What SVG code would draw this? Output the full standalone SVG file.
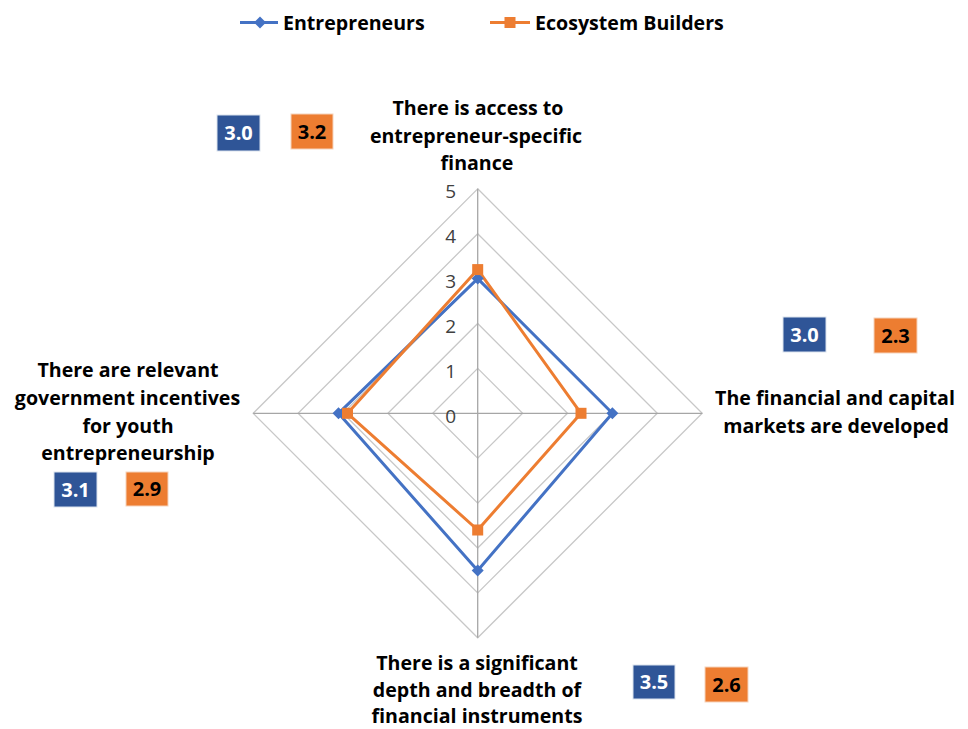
<svg xmlns="http://www.w3.org/2000/svg" width="968" height="729" viewBox="0 0 968 729">
<style>
.lbl{font-family:"Open Sans","Noto Sans","Liberation Sans",sans-serif;font-weight:bold;font-size:19.6px;fill:#000;text-anchor:middle}
.tick{font-family:"Open Sans","Noto Sans","Liberation Sans",sans-serif;font-size:19px;fill:#404040;text-anchor:end}
.ring{fill:none;stroke:#c8c8c8;stroke-width:1.3}
.spoke{stroke:#a6a6a6;stroke-width:1.3}
.bv{font-family:"Open Sans","Noto Sans","Liberation Sans",sans-serif;font-weight:bold;font-size:20px;text-anchor:middle}
.bb{fill:#2f5597;stroke:#dbe3ee;stroke-width:1}
.ob{fill:#ed7d31;stroke:#f6d3bb;stroke-width:1}
.ent{fill:none;stroke:#4472c4;stroke-width:3;stroke-linejoin:round}
.eco{fill:none;stroke:#ed7d31;stroke-width:3;stroke-linejoin:round}
</style>
<rect width="968" height="729" fill="#fff"/>
<g id="legend">
<line x1="240" y1="22.5" x2="278" y2="22.5" stroke="#4472c4" stroke-width="3"/>
<path d="M260 16.5 L266 22.5 L260 28.5 L254 22.5 Z" fill="#4472c4"/>
<text x="283" y="30" class="lbl" style="text-anchor:start">Entrepreneurs</text>
<line x1="490" y1="22.5" x2="530" y2="22.5" stroke="#ed7d31" stroke-width="3"/>
<rect x="504.5" y="17" width="11" height="11" fill="#ed7d31"/>
<text x="535" y="30" class="lbl" style="text-anchor:start">Ecosystem Builders</text>
</g>
<g id="grid">
<path class="ring" d="M477.7 368.4 L522.6 413.3 L477.7 458.2 L432.8 413.3 Z"/>
<path class="ring" d="M477.7 323.5 L567.5 413.3 L477.7 503.1 L387.9 413.3 Z"/>
<path class="ring" d="M477.7 278.6 L612.4 413.3 L477.7 548 L343 413.3 Z"/>
<path class="ring" d="M477.7 233.7 L657.3 413.3 L477.7 592.9 L298.1 413.3 Z"/>
<path class="ring" d="M477.7 188.8 L702.2 413.3 L477.7 637.8 L253.2 413.3 Z"/>
<line class="spoke" x1="477.7" y1="188.8" x2="477.7" y2="637.8"/>
<line class="spoke" x1="253.2" y1="413.3" x2="702.2" y2="413.3"/>
</g>
<g id="ticks">
<text class="tick" x="456" y="422.5">0</text>
<text class="tick" x="456" y="377.5">1</text>
<text class="tick" x="456" y="332.5">2</text>
<text class="tick" x="456" y="287.5">3</text>
<text class="tick" x="456" y="243">4</text>
<text class="tick" x="456" y="198">5</text>
</g>
<g id="connectors">
<path id="series-entrepreneurs" class="ent" d="M477.7 278.6 L612.4 413.3 L477.7 570.5 L338.5 413.3 Z"/>
<path id="series-ecosystem" class="eco" d="M477.7 269.6 L581 413.3 L477.7 530 L347.5 413.3 Z"/>
</g>
<g id="markers-entrepreneurs" fill="#4472c4">
<path d="M477.7 272.6 l6 6 l-6 6 l-6 -6 Z"/>
<path d="M612.4 407.3 l6 6 l-6 6 l-6 -6 Z"/>
<path d="M477.7 564.5 l6 6 l-6 6 l-6 -6 Z"/>
<path d="M338.5 407.3 l6 6 l-6 6 l-6 -6 Z"/>
</g>
<g id="markers-ecosystem" fill="#ed7d31">
<rect x="472.2" y="264.1" width="11" height="11"/>
<rect x="575.5" y="407.8" width="11" height="11"/>
<rect x="472.2" y="524.5" width="11" height="11"/>
<rect x="342" y="407.8" width="11" height="11"/>
</g>
<g id="node-top">
<text class="lbl" x="478" y="115">There is access to</text>
<text class="lbl" x="476" y="143">entrepreneur-specific</text>
<text class="lbl" x="477" y="170">finance</text>
<rect class="bb" x="217" y="115" width="43" height="36"/>
<text class="bv" x="238.5" y="140" fill="#fff">3.0</text>
<rect class="ob" x="291" y="114" width="42" height="35"/>
<text class="bv" x="312" y="138.5" fill="#000">3.2</text>
</g>
<g id="node-right">
<text class="lbl" x="835" y="405">The financial and capital</text>
<text class="lbl" x="836" y="433">markets are developed</text>
<rect class="bb" x="783" y="317" width="43" height="35"/>
<text class="bv" x="804.5" y="341.5" fill="#fff">3.0</text>
<rect class="ob" x="874" y="318" width="43" height="35"/>
<text class="bv" x="895.5" y="342.5" fill="#000">2.3</text>
</g>
<g id="node-left">
<text class="lbl" x="128" y="377">There are relevant</text>
<text class="lbl" x="127.5" y="405">government incentives</text>
<text class="lbl" x="128" y="433">for youth</text>
<text class="lbl" x="128" y="460">entrepreneurship</text>
<rect class="bb" x="54" y="472" width="43" height="35"/>
<text class="bv" x="75.5" y="496.5" fill="#fff">3.1</text>
<rect class="ob" x="126" y="472" width="42" height="34"/>
<text class="bv" x="147" y="496" fill="#000">2.9</text>
</g>
<g id="node-bottom">
<text class="lbl" x="477" y="670">There is a significant</text>
<text class="lbl" x="477" y="697">depth and breadth of</text>
<text class="lbl" x="477" y="723">financial instruments</text>
<rect class="bb" x="633" y="665" width="42" height="34"/>
<text class="bv" x="654" y="689" fill="#fff">3.5</text>
<rect class="ob" x="705" y="667" width="43" height="35"/>
<text class="bv" x="726.5" y="691.5" fill="#000">2.6</text>
</g>
</svg>
